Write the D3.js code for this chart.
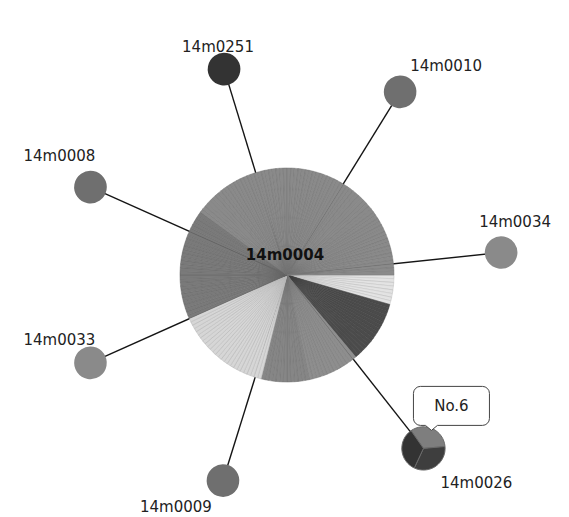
<!DOCTYPE html>
<html>
<head>
<meta charset="utf-8">
<script src="https://cdn.jsdelivr.net/npm/d3@7"></script>
<style>
  html, body { margin: 0; padding: 0; background: #fff; }
  svg { display: block; }
  text { font-family: "DejaVu Sans", sans-serif; }
</style>
</head>
<body>
<svg id="chart" width="569" height="517"></svg>
<script>
// Hub sequence type and its isolates, grouped by category
const hubName = "14m0004";
const hubGroups = ["g1", "g2", "g3", "g4", "g5", "g6", "g7"];
const hubCounts = [8, 17, 14, 13, 26, 30, 72];

// Single-locus variants linked to the hub
const nodeNames = ["14m0251", "14m0010", "14m0034", "14m0026", "14m0009", "14m0033", "14m0008"];
const nodeIsolates = [["g8"], ["g9"], ["g7"], ["g11", "g10", "g8"], ["g9"], ["g7"], ["g9"]];
const linkDistances = [1, 1, 1, 1, 1, 1, 1];
const calloutText = "No.6";
const calloutNode = "14m0026";

// Category palette
const groupKeys = ["g1", "g2", "g3", "g4", "g5", "g6", "g7", "g8", "g9", "g10", "g11"];
const groupFills = ["#e3e3e3", "#4b4b4b", "#8e8e8e", "#868686", "#d6d6d6", "#7a7a7a",
                    "#8a8a8a", "#333333", "#6f6f6f", "#3e3e3e", "#7e7e7e"];

// Layout (screen angles in degrees, clockwise from east) and label offsets
const hubCenter = [287, 275];
const nodeAngles = [-107, -58.3, -6, 51.8, 107.3, 155.9, 204.1];
const labelOffsets = [[-42, -17], [10, -21], [-22, -25], [17, 40], [-83, 31], [-67, -18], [-67, -26]];

const svg = d3.select("#chart");
const color = d3.scaleOrdinal().domain(groupKeys).range(groupFills);
const sizeScale = d3.scaleSqrt().domain([0, 180]).range([0, 98]);
const radius = n => 9 + sizeScale(n);
const linkScale = d3.scaleLinear().domain([0, 1]).range([0, 92]);

const hubTotal = d3.sum(hubCounts);
const hubR = radius(hubTotal);

// One entry per isolate so that every isolate gets its own thin wedge
const hubIsolates = hubGroups.flatMap((g, i) => d3.range(hubCounts[i]).map(() => g));

const nodes = nodeNames.map((name, i) => {
  const r = radius(nodeIsolates[i].length);
  const dist = hubR + linkScale(linkDistances[i]) + r;
  const a = nodeAngles[i] * Math.PI / 180;
  return {
    name, r, isolates: nodeIsolates[i],
    x: hubCenter[0] + dist * Math.cos(a),
    y: hubCenter[1] + dist * Math.sin(a),
    label: labelOffsets[i]
  };
});

// Links
svg.append("g")
  .selectAll("line")
  .data(nodes)
  .join("line")
  .attr("x1", hubCenter[0]).attr("y1", hubCenter[1])
  .attr("x2", d => d.x).attr("y2", d => d.y)
  .attr("stroke", "#151515")
  .attr("stroke-width", 1.4);

// Hub pie
const hubPie = d3.pie().value(1).sort(null)
  .startAngle(Math.PI / 2).endAngle(Math.PI / 2 + 2 * Math.PI);
const hubArc = d3.arc().innerRadius(0).outerRadius(hubR);
svg.append("g")
  .attr("transform", `translate(${hubCenter[0]},${hubCenter[1]})`)
  .selectAll("path")
  .data(hubPie(hubIsolates))
  .join("path")
  .attr("d", hubArc)
  .attr("fill", d => color(d.data))
  .attr("stroke", (d, i) => d3.color(color(d.data)).darker(i % 2 ? 0.35 : 0.6))
  .attr("stroke-width", 0.6)
  .attr("stroke-opacity", 0.85);

// Satellite nodes
const nodePie = d3.pie().value(1).sort(null)
  .startAngle(-35 * Math.PI / 180).endAngle(325 * Math.PI / 180);
const ng = svg.append("g")
  .selectAll("g")
  .data(nodes)
  .join("g")
  .attr("transform", d => `translate(${d.x},${d.y})`);
ng.selectAll("path")
  .data(d => nodePie(d.isolates).map(s => ({ ...s, r: d.r, n: d.isolates.length })))
  .join("path")
  .attr("d", s => d3.arc().innerRadius(0).outerRadius(s.r)(s))
  .attr("fill", s => color(s.data))
  .attr("stroke", s => s.n > 1 ? "#6a6a6a" : "none")
  .attr("stroke-width", 1);

// Node labels
svg.append("g")
  .selectAll("text")
  .data(nodes)
  .join("text")
  .attr("x", d => d.x + d.label[0])
  .attr("y", d => d.y + d.label[1])
  .attr("font-size", 15)
  .attr("fill", "#222")
  .text(d => d.name);

// Hub label
svg.append("text")
  .attr("x", hubCenter[0] - 2)
  .attr("y", hubCenter[1] - 15)
  .attr("text-anchor", "middle")
  .attr("font-size", 15)
  .attr("font-weight", "bold")
  .attr("fill", "#111")
  .text(hubName);

// Callout bubble above the highlighted node
const cn = nodes.find(d => d.name === calloutNode);
const bx0 = cn.x - 10, bx1 = cn.x + 66, by0 = cn.y - 62, by1 = cn.y - 23, rr = 7;
const tipX = cn.x + 8;
const p = d3.path();
p.moveTo(bx0 + rr, by0);
p.lineTo(bx1 - rr, by0);
p.arcTo(bx1, by0, bx1, by0 + rr, rr);
p.lineTo(bx1, by1 - rr);
p.arcTo(bx1, by1, bx1 - rr, by1, rr);
p.lineTo(tipX + 6, by1);
p.lineTo(tipX, by1 + 5);
p.lineTo(tipX - 6, by1);
p.lineTo(bx0 + rr, by1);
p.arcTo(bx0, by1, bx0, by1 - rr, rr);
p.lineTo(bx0, by0 + rr);
p.arcTo(bx0, by0, bx0 + rr, by0, rr);
p.closePath();
svg.append("path")
  .attr("d", p.toString())
  .attr("fill", "#fff")
  .attr("stroke", "#444")
  .attr("stroke-width", 1);
svg.append("text")
  .attr("x", (bx0 + bx1) / 2)
  .attr("y", by0 + 25)
  .attr("text-anchor", "middle")
  .attr("font-size", 15)
  .attr("fill", "#222")
  .text(calloutText);
</script>
</body>
</html>
